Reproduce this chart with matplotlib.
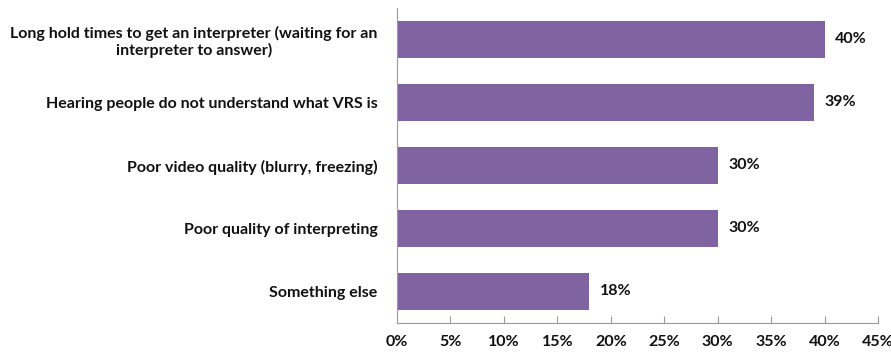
import matplotlib
matplotlib.use('Agg')
import matplotlib.pyplot as plt
from matplotlib.ticker import MultipleLocator, FuncFormatter

# VRS problems reported, share of respondents
categories = ['Long hold times to get an interpreter (waiting for an\ninterpreter to answer)',
              'Hearing people do not understand what VRS is',
              'Poor video quality (blurry, freezing)',
              'Poor quality of interpreting',
              'Something else']
values = [40, 39, 30, 30, 18]

plt.rcParams['font.family'] = ['Lato', 'DejaVu Sans']
plt.rcParams['font.weight'] = 'bold'

fs = 11.5
fig = plt.figure(figsize=(8.91, 3.54), dpi=100)
ax = fig.add_axes([0.4456, 0.0876, 0.5398, 0.8898])

pos = list(range(len(categories)))
ax.barh(pos, values, height=0.58, color='#8064A2')
for p, v in zip(pos, values):
    ax.text(v + 1.0, p, f'{v}%', va='center', ha='left', fontsize=fs,
            fontweight='bold', color='#111111')

ax.set_yticks(pos)
ax.set_yticklabels(categories, fontsize=fs, fontweight='bold', color='#111111',
                   multialignment='center', linespacing=1.2)
ax.set_ylim(len(categories) - 0.5, -0.5)
ax.set_xlim(0, 45)
ax.xaxis.set_major_locator(MultipleLocator(5))
ax.xaxis.set_major_formatter(FuncFormatter(lambda x, _: f'{x:.0f}%'))
for lab in ax.get_xticklabels():
    lab.set_fontweight('bold')
    lab.set_fontsize(fs)
    lab.set_color('#111111')

ax.tick_params(axis='x', direction='in', length=5, color='#999999', pad=9)
ax.tick_params(axis='y', length=0, pad=14)
for side in ['top', 'right']:
    ax.spines[side].set_visible(False)
ax.spines['left'].set_color('#999999')
ax.spines['bottom'].set_color('#999999')

fig.savefig('out.png', dpi=100)
